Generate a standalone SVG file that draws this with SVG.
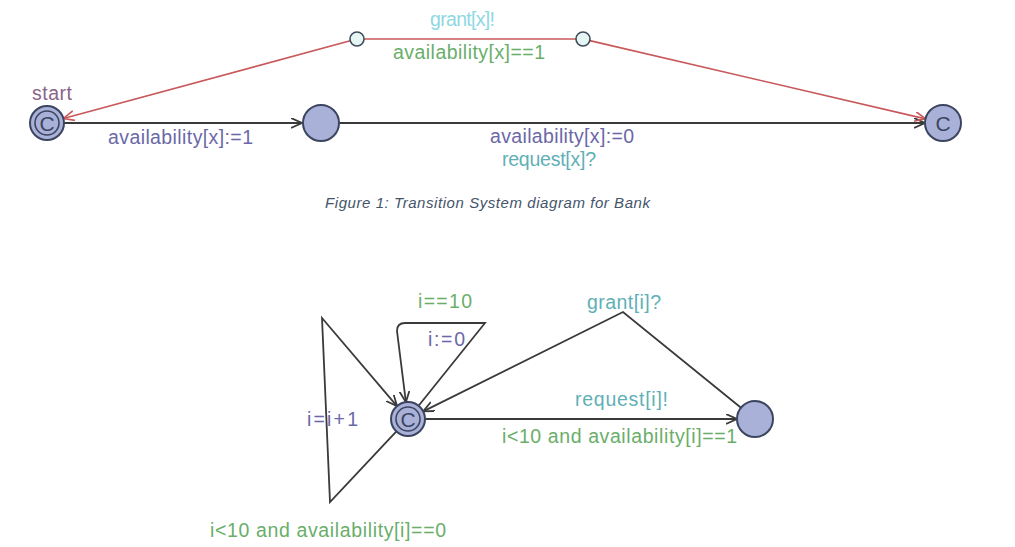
<svg xmlns="http://www.w3.org/2000/svg" width="1015" height="547" viewBox="0 0 1015 547">
<style>
text{font-family:"Liberation Sans",Arial,sans-serif;font-size:19.5px}
.loc{fill:#a9b1d8;stroke:#3c4560;stroke-width:2}
.inner{fill:none;stroke:#3c4560;stroke-width:1.6}
.bp{fill:#e6f6f4;stroke:#404a5a;stroke-width:1.6}
.cl{font-size:21px;fill:#3c4560;text-anchor:middle}
.edge{fill:none;stroke:#3a3a3a;stroke-width:1.8}
.red{fill:none;stroke:#c8585a;stroke-width:1.6}
.sync{fill:#5fb0b6}
.syncl{fill:#8fd8e2}
.guard{fill:#6aae6a}
.asg{fill:#6b68a8}
.name{fill:#8a6488}
.cap{font-family:"Liberation Sans",Arial,sans-serif;font-style:italic;font-size:15px;fill:#44546a}
</style>
<defs>
<marker id="ah" markerUnits="userSpaceOnUse" markerWidth="14" markerHeight="12" refX="11" refY="5" orient="auto">
<path d="M0,0 L11,5 L0,10" fill="none" stroke="#3a3a3a" stroke-width="1.8"/>
</marker>
<marker id="ahr" markerUnits="userSpaceOnUse" markerWidth="14" markerHeight="12" refX="11" refY="5" orient="auto">
<path d="M0,0 L11,5 L0,10" fill="none" stroke="#c8585a" stroke-width="1.6"/>
</marker>
</defs>
<rect width="1015" height="547" fill="#ffffff"/>

<g id="connectors">
<line class="edge" x1="64" y1="123" x2="302" y2="123" marker-end="url(#ah)"/>
<line class="edge" x1="339" y1="123" x2="925" y2="123" marker-end="url(#ah)"/>
<line class="red" x1="350.2" y1="40.8" x2="63.4" y2="118.5" marker-end="url(#ahr)"/>
<line class="red" x1="364" y1="39" x2="576" y2="39"/>
<line class="red" x1="589.8" y1="40.6" x2="925.5" y2="118.9" marker-end="url(#ahr)"/>

<line class="edge" x1="425" y1="419" x2="737" y2="419" marker-end="url(#ah)"/>
<path class="edge" d="M741,407.7 L623,312 L423.2,411.4" marker-end="url(#ah)"/>
<path class="edge" d="M418.6,405.7 L485,323 L405,323 Q397,323 397,331 L405.9,402.1" marker-end="url(#ah)"/>
<path class="edge" d="M396.4,431.4 L330,502 L322,318 L397,406.1" marker-end="url(#ah)"/>
</g>

<g id="labels">
<text class="syncl" x="430" y="26" textLength="65">grant[x]!</text>
<text class="guard" x="393" y="59" textLength="152">availability[x]==1</text>
<text class="asg" x="108" y="144" textLength="145">availability[x]:=1</text>
<text class="asg" x="490" y="143" textLength="144">availability[x]:=0</text>
<text class="sync" x="502" y="166" textLength="94">request[x]?</text>
<text class="cap" x="325" y="208" textLength="325">Figure 1: Transition System diagram for Bank</text>

<text class="guard" x="418" y="308" textLength="54">i==10</text>
<text class="asg" x="428" y="346" textLength="37">i:=0</text>
<text class="sync" x="587" y="309" textLength="74">grant[i]?</text>
<text class="sync" x="575" y="406" textLength="93">request[i]!</text>
<text class="guard" x="502" y="443" textLength="235">i&lt;10 and availability[i]==1</text>
<text class="asg" x="307" y="426" textLength="51">i=i+1</text>
<text class="guard" x="210" y="537" textLength="236">i&lt;10 and availability[i]==0</text>
</g>

<g id="node-start">
<circle class="loc" cx="47" cy="123" r="17"/>
<circle class="inner" cx="47" cy="123" r="12"/>
<text class="cl" x="47" y="130.5">C</text>
<text class="name" x="32" y="100" textLength="40">start</text>
</g>
<g id="node-mid">
<circle class="loc" cx="321" cy="123" r="18"/>
</g>
<g id="node-committed">
<circle class="loc" cx="943" cy="123" r="18"/>
<text class="cl" x="943" y="130.5">C</text>
</g>
<g id="node-bp1">
<circle class="bp" cx="357" cy="39" r="7"/>
</g>
<g id="node-bp2">
<circle class="bp" cx="583" cy="39" r="7"/>
</g>

<g id="node-user">
<circle class="loc" cx="408" cy="419" r="17"/>
<circle class="inner" cx="408" cy="419" r="12"/>
<text class="cl" x="408" y="426.5">C</text>
</g>
<g id="node-wait">
<circle class="loc" cx="755" cy="419" r="18"/>
</g>
</svg>
